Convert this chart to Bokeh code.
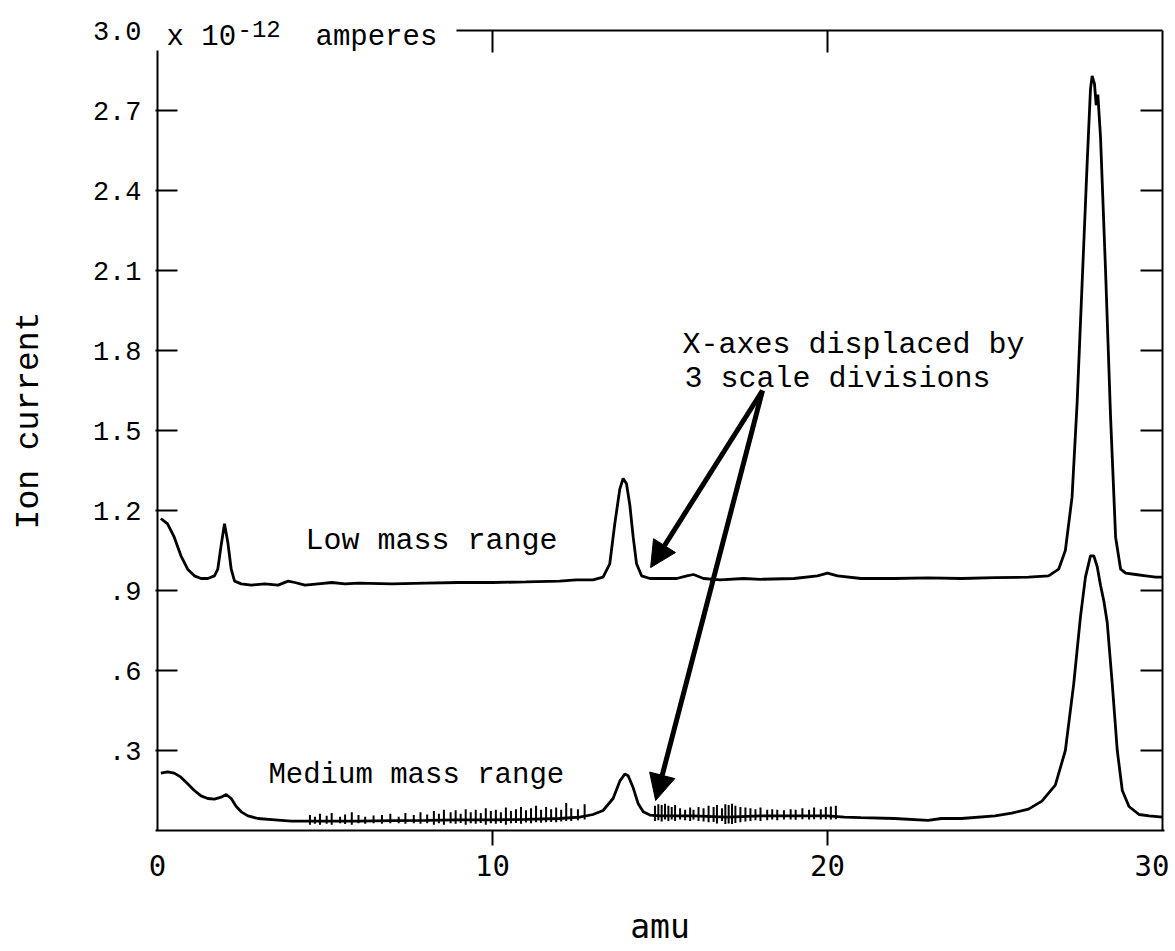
from bokeh.plotting import figure
from bokeh.models import LinearAxis, FixedTicker, Range1d, Label, Arrow, NormalHead
from bokeh.embed import file_html
from bokeh.resources import INLINE

# ---- data ----
low_x = [0.1, 0.3, 0.5, 0.7, 0.9, 1.1, 1.3, 1.5, 1.7, 1.8, 1.9, 2.0, 2.1, 2.2, 2.3, 2.5, 2.8,
         3.2, 3.6, 3.9, 4.1, 4.4, 4.8, 5.2, 5.6, 6.0, 7.0, 8.0, 9.0, 10.0, 11.0, 12.0, 12.5,
         13.0, 13.3, 13.5, 13.65, 13.8, 13.9, 14.0, 14.1, 14.2, 14.3, 14.45, 14.7, 15.0, 15.5,
         15.8, 16.0, 16.3, 16.8, 17.5, 18.0, 19.0, 19.7, 20.0, 20.3, 21.0, 22.0, 23.0, 24.0,
         25.0, 26.0, 26.6, 26.9, 27.1, 27.3, 27.45, 27.6, 27.75, 27.85, 27.9, 27.97, 28.02,
         28.07, 28.15, 28.3, 28.45, 28.6, 28.75, 28.9, 29.2, 29.5, 29.8, 30.0]
low_y = [1.17, 1.15, 1.10, 1.03, 0.98, 0.955, 0.945, 0.945, 0.955, 0.98, 1.07, 1.15, 1.08, 0.98,
         0.935, 0.925, 0.92, 0.925, 0.92, 0.935, 0.93, 0.92, 0.925, 0.93, 0.925, 0.928, 0.925,
         0.928, 0.93, 0.93, 0.932, 0.935, 0.94, 0.94, 0.95, 1.00, 1.15, 1.28, 1.32, 1.30, 1.22,
         1.10, 1.00, 0.955, 0.945, 0.945, 0.945, 0.955, 0.96, 0.945, 0.94, 0.945, 0.942, 0.945,
         0.955, 0.965, 0.955, 0.945, 0.945, 0.947, 0.945, 0.948, 0.95, 0.955, 0.98, 1.05, 1.25,
         1.6, 2.05, 2.5, 2.78, 2.83, 2.80, 2.72, 2.76, 2.6, 2.1, 1.55, 1.1, 0.98, 0.965, 0.96,
         0.955, 0.95, 0.95]

med_x = [0.1, 0.3, 0.5, 0.7, 0.9, 1.1, 1.3, 1.5, 1.7, 1.9, 2.05, 2.2, 2.35, 2.5, 2.7, 3.0, 3.5,
         4.0, 5.0, 6.0, 7.0, 8.0, 9.0, 10.0, 11.0, 12.0, 12.6, 13.0, 13.3, 13.6, 13.8, 13.95,
         14.05, 14.2, 14.35, 14.5, 14.7, 15.0, 16.0, 17.0, 18.0, 19.0, 20.0, 20.5, 21.0, 22.0,
         23.0, 23.4, 24.0, 25.0, 25.5, 26.0, 26.4, 26.8, 27.1, 27.35, 27.55, 27.7, 27.85, 27.95,
         28.05, 28.15, 28.25, 28.35, 28.5, 28.65, 28.8, 29.0, 29.3, 29.6, 30.0]
med_y = [0.215, 0.22, 0.215, 0.20, 0.175, 0.15, 0.13, 0.12, 0.118, 0.125, 0.135, 0.12, 0.09,
         0.07, 0.055, 0.045, 0.04, 0.035, 0.035, 0.035, 0.037, 0.038, 0.04, 0.04, 0.042, 0.045,
         0.05, 0.06, 0.075, 0.12, 0.185, 0.212, 0.205, 0.16, 0.10, 0.07, 0.058, 0.055, 0.055,
         0.05, 0.055, 0.055, 0.055, 0.05, 0.048, 0.045, 0.038, 0.045, 0.045, 0.055, 0.065, 0.08,
         0.11, 0.17, 0.3, 0.55, 0.8, 0.95, 1.03, 1.03, 0.99, 0.92, 0.86, 0.78, 0.55, 0.3, 0.15,
         0.09, 0.06, 0.055, 0.05]

# recorder noise spikes on the medium mass trace
noise_x = [4.55, 4.7, 4.85, 5.05, 5.2, 5.45, 5.6, 5.8, 6.0, 6.2, 6.45, 6.7, 6.95, 7.2, 7.4,
           7.65, 7.85, 8.05, 8.25, 8.4, 8.55, 8.75, 8.9, 9.05, 9.2, 9.35, 9.5, 9.65, 9.8, 9.95,
           10.1, 10.25, 10.4, 10.55, 10.7, 10.85, 11.0, 11.15, 11.3, 11.45, 11.6, 11.75, 11.9,
           12.05, 12.2, 12.35, 12.55, 12.75,
           14.85, 14.95, 15.05, 15.15, 15.25, 15.35, 15.45, 15.6, 15.75, 15.9, 16.0, 16.15,
           16.3, 16.45, 16.6, 16.7, 16.85, 16.95, 17.05, 17.15, 17.25, 17.4, 17.55, 17.7,
           17.85, 18.0, 18.2, 18.35, 18.5, 18.7, 18.9, 19.05, 19.25, 19.45, 19.6, 19.8, 19.95,
           20.1, 20.25]
noise_lo = [0.022, 0.025, 0.022, 0.025, 0.022, 0.027, 0.024, 0.022, 0.027, 0.025, 0.027, 0.025,
            0.027, 0.027, 0.025, 0.027, 0.025, 0.027, 0.022, 0.027, 0.022, 0.027, 0.025, 0.028,
            0.022, 0.027, 0.025, 0.028, 0.022, 0.027, 0.025, 0.028, 0.022, 0.027, 0.028, 0.025,
            0.03, 0.027, 0.031, 0.029, 0.031, 0.032, 0.031, 0.034, 0.036, 0.036, 0.038, 0.041,
            0.036, 0.038, 0.034, 0.041, 0.036, 0.041, 0.036, 0.041, 0.038, 0.036, 0.041, 0.036,
            0.034, 0.031, 0.032, 0.026, 0.036, 0.024, 0.026, 0.024, 0.028, 0.031, 0.034, 0.036,
            0.038, 0.036, 0.038, 0.041, 0.038, 0.041, 0.041, 0.04, 0.042, 0.041, 0.042, 0.041,
            0.042, 0.041, 0.042]
noise_hi = [0.058, 0.052, 0.063, 0.055, 0.066, 0.052, 0.06, 0.068, 0.058, 0.052, 0.056, 0.058,
            0.063, 0.052, 0.066, 0.058, 0.068, 0.06, 0.073, 0.063, 0.078, 0.068, 0.076, 0.063,
            0.08, 0.068, 0.078, 0.066, 0.083, 0.073, 0.078, 0.068, 0.086, 0.073, 0.08, 0.088,
            0.076, 0.083, 0.093, 0.078, 0.088, 0.08, 0.086, 0.078, 0.103, 0.083, 0.08, 0.098,
            0.093, 0.098, 0.096, 0.1, 0.093, 0.088, 0.096, 0.083, 0.078, 0.086, 0.078, 0.088,
            0.083, 0.093, 0.088, 0.096, 0.083, 0.098, 0.096, 0.1, 0.093, 0.088, 0.086, 0.083,
            0.08, 0.086, 0.078, 0.08, 0.078, 0.076, 0.08, 0.078, 0.083, 0.078, 0.086, 0.08,
            0.088, 0.09, 0.093]

x_ticks = [0, 10, 20, 30]
x_tick_labels = ["0", "10", "20", "30"]
x_inner_ticks = [10, 20]
y_ticks = [0.3, 0.6, 0.9, 1.2, 1.5, 1.8, 2.1, 2.4, 2.7]
y_label_ticks = [0.3, 0.6, 0.9, 1.2, 1.5, 1.8, 2.1, 2.4, 2.7, 3.0]
y_tick_labels = [".3", ".6", ".9", "1.2", "1.5", "1.8", "2.1", "2.4", "2.7", "3.0"]
y_top = 3.0

FONT = "Liberation Mono"
PX_X = 33.5     # pixels per amu
PX_Y = 266.67   # pixels per ion-current unit
TICK = 22       # inward tick length, px

p = figure(width=1169, height=948,
           x_range=Range1d(-2 / PX_X, 30 + 2 / PX_X), y_range=Range1d(0, 3.075),
           output_backend="svg", toolbar_location=None,
           x_axis_location=None, y_axis_location=None,
           min_border_left=155, min_border_top=10, min_border_right=5, min_border_bottom=118)
p.outline_line_color = None
p.grid.visible = False
p.background_fill_color = "white"
p.border_fill_color = "white"

# left axis: labels from major ticks, inward marks from minor ticks; line drawn below
yl = LinearAxis(ticker=FixedTicker(ticks=y_label_ticks, minor_ticks=y_ticks),
                major_label_overrides=dict(zip(y_label_ticks, y_tick_labels)),
                axis_label="Ion current")
yl.axis_line_color = None
yl.major_tick_in = 0
yl.major_tick_out = 0
yl.minor_tick_in = TICK
yl.minor_tick_out = 0
yl.minor_tick_line_width = 2
yl.minor_tick_line_color = "black"
yl.major_label_standoff = 14
yl.major_label_text_font = FONT
yl.major_label_text_font_size = "27px"
yl.major_label_text_color = "black"
yl.axis_label_text_font = FONT
yl.axis_label_text_font_size = "33px"
yl.axis_label_text_font_style = "normal"
yl.axis_label_text_color = "black"
yl.axis_label_standoff = 42
p.add_layout(yl, "left")

# bottom axis
xb = LinearAxis(ticker=FixedTicker(ticks=x_ticks, minor_ticks=x_inner_ticks),
                major_label_overrides=dict(zip(x_ticks, x_tick_labels)), axis_label="amu")
xb.axis_line_color = "black"
xb.axis_line_width = 2
xb.major_tick_in = 0
xb.major_tick_out = 0
xb.minor_tick_in = 0
xb.minor_tick_out = 15
xb.minor_tick_line_width = 2
xb.minor_tick_line_color = "black"
xb.major_label_standoff = 9
xb.major_label_text_font = "DejaVu Sans Mono"
xb.major_label_text_font_size = "29px"
xb.major_label_text_color = "black"
xb.axis_label_text_font = "DejaVu Sans Mono"
xb.axis_label_text_font_size = "33px"
xb.axis_label_text_font_style = "normal"
xb.axis_label_text_color = "black"
xb.axis_label_standoff = 28
p.add_layout(xb, "below")

# frame lines and inward ticks on the left, top and right
p.segment(x0=[0], y0=[0], x1=[0], y1=[2.925], line_width=2, line_color="black")
p.segment(x0=[30], y0=[0], x1=[30], y1=[y_top], line_width=2, line_color="black")
p.segment(x0=[8.925], y0=[y_top], x1=[30], y1=[y_top], line_width=2, line_color="black")
p.segment(x0=x_inner_ticks, y0=[y_top] * len(x_inner_ticks), x1=x_inner_ticks,
          y1=[y_top - TICK / PX_Y] * len(x_inner_ticks), line_width=2, line_color="black")
p.segment(x0=[30 - TICK / PX_X] * len(y_ticks), y0=y_ticks, x1=[30] * len(y_ticks), y1=y_ticks,
          line_width=2, line_color="black")

# curves
p.line(low_x, low_y, line_width=2.8, line_color="black")
p.line(med_x, med_y, line_width=2.8, line_color="black")
p.segment(x0=noise_x, y0=noise_lo, x1=noise_x, y1=noise_hi, line_width=2, line_color="black")

# unit text next to the 3.0 label
p.add_layout(Label(x=0.269, y=2.974, text="x 10", text_font=FONT, text_font_size="29px",
                   text_baseline="alphabetic", text_color="black"))
p.add_layout(Label(x=2.39, y=3.0075, text="-12", text_font=FONT, text_font_size="24px",
                   text_baseline="alphabetic", text_color="black"))
p.add_layout(Label(x=4.716, y=2.974, text="amperes", text_font=FONT, text_font_size="29px",
                   text_baseline="alphabetic", text_color="black"))

# series labels and note
p.add_layout(Label(x=4.42, y=1.0875, text="Low mass range", text_font=FONT,
                   text_font_size="30px", text_baseline="middle", text_color="black"))
p.add_layout(Label(x=3.31, y=0.206, text="Medium mass range", text_font=FONT,
                   text_font_size="29px", text_baseline="middle", text_color="black"))
p.add_layout(Label(x=15.67, y=1.82, text="X-axes displaced by", text_font=FONT,
                   text_font_size="30px", text_baseline="middle", text_color="black"))
p.add_layout(Label(x=15.73, y=1.695, text="3 scale divisions", text_font=FONT,
                   text_font_size="30px", text_baseline="middle", text_color="black"))

# arrows
for xe, ye in [(14.72, 0.986), (14.87, 0.1125)]:
    p.add_layout(Arrow(end=NormalHead(size=26, fill_color="black", line_color="black"),
                       x_start=18.06, y_start=1.65, x_end=xe, y_end=ye,
                       line_width=5, line_color="black"))

open("out.html", "w").write(file_html(p, INLINE))
